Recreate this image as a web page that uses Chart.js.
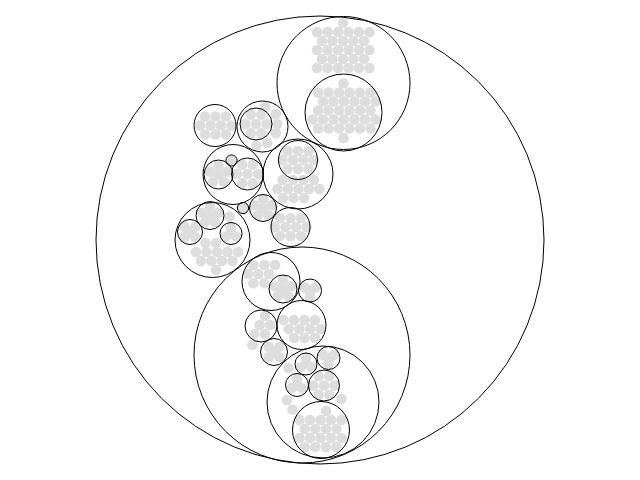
<!DOCTYPE html>
<html>
<head>
<meta charset="utf-8">
<script src="https://cdn.jsdelivr.net/npm/chart.js"></script>
<style>
  html, body { margin: 0; padding: 0; background: #fff; }
  #wrap { width: 640px; height: 480px; }
</style>
</head>
<body>
<div id="wrap"><canvas id="packChart" width="640" height="480"></canvas></div>
<script>
// Circle packing layout: [x, y, r] in layout units
const leafR = 5.3;

// parent circles (outlined)
const groupCircles = [
    [320, 240, 224],
    [343.5, 83, 66.5], [343.5, 112.5, 38.5],
    [215, 125.5, 21],
    [262.5, 126.5, 25.5], [256, 124, 16],
    [233, 174.5, 30], [218.5, 174.5, 14.5], [247.5, 174, 16], [231.5, 160.5, 5.6],
    [298, 174, 35], [298, 160, 19.5],
    [243, 208, 5.6],
    [263, 208, 13.5],
    [290.5, 227, 19.5],
    [212.5, 240, 37.5], [210, 215.5, 14], [190, 232, 12.5], [231, 233.5, 11],
    [302, 355, 108],
    [271, 281.5, 29], [283, 289, 14],
    [310, 290.5, 11.5],
    [301.5, 325, 24.5],
    [261, 326, 16],
    [274, 352, 13.5],
    [323, 402, 56], [306, 364, 11], [328.5, 358, 11.5], [297, 385, 11.5], [324, 385.5, 15.5],
    [321, 430, 28.5]
];

// leaves, one list per region
const leavesTopRight = [
    [343, 23],
    [317, 32], [327.5, 32], [338, 32], [348.5, 32], [359, 32], [369.5, 32],
    [322, 41], [332.5, 41], [343, 41], [353.5, 41], [364, 41],
    [317, 50], [327.5, 50], [338, 50], [348.5, 50], [359, 50], [369.5, 50],
    [322, 59], [332.5, 59], [343, 59], [353.5, 59], [364, 59],
    [317, 68], [327.5, 68], [338, 68], [348.5, 68], [359, 68], [369.5, 68]
];
const leavesTopInner = [
    [343.5, 83.5],
    [318, 92.5], [328.5, 92.5], [339, 92.5], [349.5, 92.5], [360, 92.5], [370.5, 92.5],
    [323, 101.5], [333.5, 101.5], [344, 101.5], [354.5, 101.5], [365, 101.5], [375.5, 101.5],
    [318, 110.5], [328.5, 110.5], [339, 110.5], [349.5, 110.5], [360, 110.5], [370.5, 110.5],
    [312.5, 119.5], [323, 119.5], [333.5, 119.5], [344, 119.5], [354.5, 119.5], [365, 119.5], [375.5, 119.5],
    [318, 128.5], [328.5, 128.5], [339, 128.5], [349.5, 128.5], [360, 128.5], [370.5, 128.5],
    [343.5, 138]
];
const leavesUpperLeft = [
    [205, 116.5], [215.5, 116.5], [226, 116.5],
    [200, 125.5], [210.5, 125.5], [221, 125.5], [231.5, 125.5],
    [205, 134.5], [215.5, 134.5], [226, 134.5],
    // second circle, inner group and the ring round it
    [250.7, 114.8], [261.3, 114.8], [245.4, 124], [256, 124], [266.6, 124], [250.7, 133.2], [261.3, 133.2],
    [265, 106.5], [276, 114], [277.3, 124], [276, 133], [267.3, 143], [256.5, 145.5]
];
const leavesMiddle = [
    [231.5, 160.5], [243, 208],
    [218.5, 165.5], [227, 171.7], [223.8, 181.8], [213.2, 181.8], [210, 171.7], [218.5, 174.5],
    [242.2, 164.8], [252.8, 164.8], [236.9, 174], [247.5, 174], [258.1, 174], [242.2, 183.2], [252.8, 183.2],
    [287.5, 151], [298, 151], [308.5, 151],
    [282.5, 160], [293, 160], [303.5, 160], [313.5, 160],
    [287.5, 169], [298, 169], [308.5, 169],
    [282.5, 180], [293, 180], [303.5, 180], [314, 180],
    [277.5, 189], [288, 189], [298.5, 189], [309, 189], [319.5, 189],
    [283, 198], [293.5, 198], [304, 198],
    [263, 199], [271.6, 205.2], [268.3, 215.3], [257.7, 215.3], [254.4, 205.2], [263, 208],
    [280, 218], [290.5, 218], [301, 218],
    [275, 227], [285.5, 227], [296, 227], [306.5, 227],
    [280, 236], [290.5, 236], [301, 236]
];
const leavesLeft = [
    [210, 206.8], [218.3, 212.8], [215.1, 222.5], [204.9, 222.5], [201.7, 212.8], [210, 215.5],
    [184.7, 226.7], [195.3, 226.7], [184.7, 237.3], [195.3, 237.3], [190, 232],
    [231, 227.4], [225.7, 236.6], [236.3, 236.6], [231, 233.5],
    [229.5, 216.5],
    [205.5, 243], [216, 243],
    [196, 252], [206.5, 252], [217, 252], [227.5, 252], [238, 252],
    [201, 261], [211.5, 261], [222, 261], [232.5, 261],
    [216, 270]
];
const leavesLower = [
    [253.3, 265], [264.3, 265], [275, 265],
    [248, 274], [258.3, 274], [269, 274],
    [253.3, 283.3], [264.3, 283.3],
    [283, 280.3], [291.3, 286.3], [288.1, 296], [277.9, 296], [274.7, 286.3], [283, 289],
    [304.7, 287.4], [315.3, 287.4], [310, 296.6], [310, 290.5],
    [283.5, 320], [294, 320], [304.5, 320], [315, 320],
    [288.7, 329], [299.3, 329], [310, 329], [320.5, 329],
    [294, 338], [304.5, 338], [315, 338],
    [265, 316], [259.7, 325], [270.3, 325], [254.4, 334], [265, 334],
    [268.7, 346.7], [279.3, 346.7], [268.7, 357.3], [279.3, 357.3], [274, 352],
    [252.5, 345]
];
const leavesBottom = [
    [306, 357.9], [300.7, 367.1], [311.3, 367.1], [306, 364],
    [323.2, 355], [333.8, 355], [328.5, 364.2], [328.5, 358],
    [297, 378.9], [291.7, 388.1], [302.3, 388.1], [297, 385],
    [318.7, 376.3], [329.3, 376.3], [313.4, 385.5], [324, 385.5], [334.6, 385.5], [318.7, 394.7], [329.3, 394.7],
    [288.5, 368], [287, 400], [292.5, 409.5], [341.5, 399],
    [326, 411],
    [299.5, 420], [310, 420], [320.5, 420], [331, 420], [341.5, 420],
    [304.7, 429], [315.3, 429], [325.9, 429], [336.5, 429],
    [299.5, 438], [310, 438], [320.5, 438], [331, 438], [341.5, 438],
    [304.7, 447], [315.3, 447], [325.9, 447], [336.5, 447]
];

const allLeaves = [].concat(leavesTopRight, leavesTopInner, leavesUpperLeft,
    leavesMiddle, leavesLeft, leavesLower, leavesBottom);

const ctxPack = document.getElementById('packChart');

const packChart = new Chart(ctxPack.getContext('2d'), {
    type: 'bubble',
    data: {
        datasets: [{
            label: 'groups',
            data: groupCircles.map(c => ({ x: c[0], y: c[1], size: c[2], r: c[2] })),
            hoverRadius: 0,
            backgroundColor: 'rgba(0,0,0,0)',
            borderColor: '#000',
            borderWidth: 1,
            hoverBorderWidth: 1,
            clip: false
        }, {
            label: 'leaves',
            data: allLeaves.map(p => ({ x: p[0], y: p[1], size: leafR, r: leafR })),
            hoverRadius: 0,
            backgroundColor: '#ddd',
            borderWidth: 0,
            hoverBorderWidth: 0,
            clip: false
        }]
    },
    options: {
        responsive: false,
        animation: false,
        events: [],
        layout: { padding: 0, autoPadding: false }, // no extra room for big bubbles
        plugins: {
            legend: { display: false },
            tooltip: { enabled: false }
        },
        scales: {
            x: { type: 'linear', min: 0, max: 640, display: false },
            y: { type: 'linear', min: 0, max: 480, reverse: true, display: false }
        }
    }
});

// bubble radius is in pixels: convert layout radius through the x scale
const xScale = packChart.scales.x;
packChart.data.datasets.forEach(ds => {
    ds.data.forEach(d => {
        d.r = Math.abs(xScale.getPixelForValue(d.size) - xScale.getPixelForValue(0));
    });
});
packChart.update('none');
</script>
</body>
</html>
